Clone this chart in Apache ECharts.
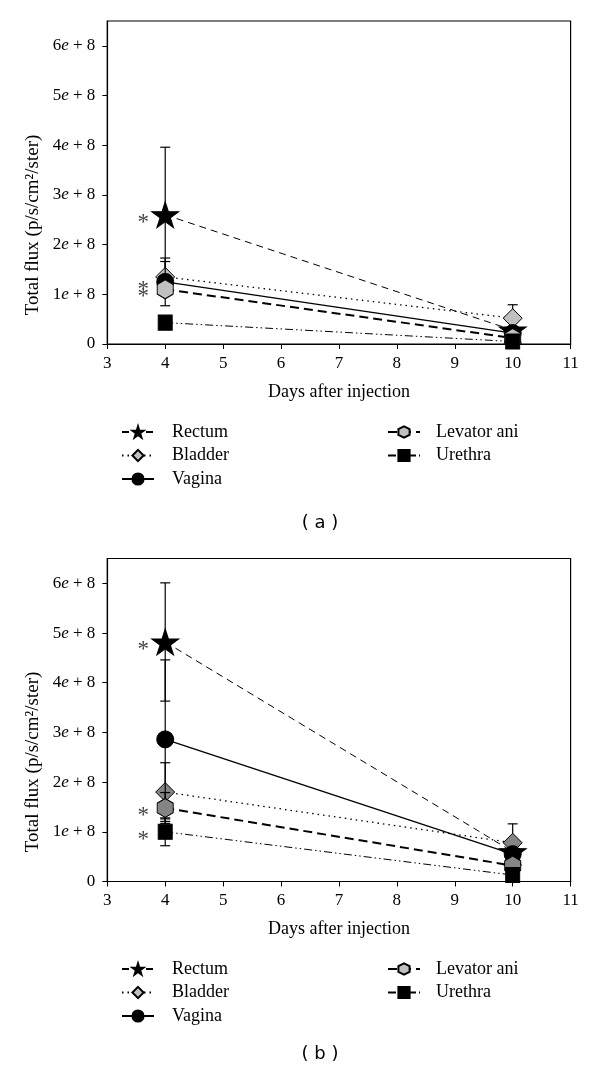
<!DOCTYPE html>
<html>
<head>
<meta charset="utf-8">
<script src="https://cdn.jsdelivr.net/npm/echarts@6/dist/echarts.min.js"></script>
<style>
html,body{margin:0;padding:0;background:#fff;}
#chart{width:600px;height:1075px;}
</style>
</head>
<body>
<div id="chart"></div>
<script>
// ---------- data ----------
const DAYS = [4, 10];
const X_TICKS = [3, 4, 5, 6, 7, 8, 9, 10, 11];
const Y_TICKS = [0, 1e8, 2e8, 3e8, 4e8, 5e8, 6e8];
const NAMES = ['Rectum', 'Bladder', 'Vagina', 'Levator ani', 'Urethra'];

// panel (a)
const A_RECTUM = [2.60e8, 0.28e8];
const A_RECTUM_ERR = [1.36e8, 0.05e8];
const A_BLADDER = [1.35e8, 0.52e8];
const A_BLADDER_ERR = [0.31e8, 0.27e8];
const A_VAGINA = [1.25e8, 0.22e8];
const A_VAGINA_ERR = [0.48e8, 0.05e8];
const A_LEVATOR = [1.10e8, 0.12e8];
const A_LEVATOR_ERR = [0.10e8, 0.04e8];
const A_URETHRA = [0.43e8, 0.05e8];
const A_URETHRA_ERR = [0.06e8, 0.02e8];
const A_STARRED = ['Rectum', 'Vagina', 'Levator ani'];

// panel (b)
const B_RECTUM = [4.82e8, 0.60e8];
const B_RECTUM_ERR = [1.19e8, 0.08e8];
const B_BLADDER = [1.80e8, 0.78e8];
const B_BLADDER_ERR = [0.59e8, 0.38e8];
const B_VAGINA = [2.86e8, 0.55e8];
const B_VAGINA_ERR = [1.60e8, 0.08e8];
const B_LEVATOR = [1.48e8, 0.32e8];
const B_LEVATOR_ERR = [0.31e8, 0.05e8];
const B_URETHRA = [1.00e8, 0.13e8];
const B_URETHRA_ERR = [0.28e8, 0.04e8];
const B_STARRED = ['Rectum', 'Levator ani', 'Urethra'];

// ---------- styles ----------
const SERIF = '"Liberation Serif", "DejaVu Serif", serif';
const STAR = 'path://M0,-1 L0.225,-0.309 L0.951,-0.309 L0.363,0.118 L0.588,0.809 L0,0.382 L-0.588,0.809 L-0.363,0.118 L-0.951,-0.309 L-0.225,-0.309 Z';
const HEX = 'path://M0,-1 L0.866,-0.5 L0.866,0.5 L0,1 L-0.866,0.5 L-0.866,-0.5 Z';

const STYLE = {
  'Rectum':      {symbol: STAR, size: [27, 26], line: {width: 1, type: [7, 5]}},
  'Bladder':     {symbol: 'diamond', size: [19, 19], line: {width: 1.3, type: [1.5, 4]}},
  'Vagina':      {symbol: 'circle', size: 17, line: {width: 1.4, type: 'solid'}},
  'Levator ani': {symbol: HEX, size: [16, 19], line: {width: 2, type: [9, 5]}},
  'Urethra':     {symbol: 'rect', size: [14, 15], line: {width: 1, type: [8, 3, 1.5, 3, 1.5, 3]}}
};
function fillFor(name, panel) {
  if (name === 'Bladder' || name === 'Levator ani') return panel === 0 ? '#c0c0c0' : '#858585';
  return '#000';
}

const PANELS = [
  {vals: [A_RECTUM, A_BLADDER, A_VAGINA, A_LEVATOR, A_URETHRA],
   errs: [A_RECTUM_ERR, A_BLADDER_ERR, A_VAGINA_ERR, A_LEVATOR_ERR, A_URETHRA_ERR],
   starred: A_STARRED},
  {vals: [B_RECTUM, B_BLADDER, B_VAGINA, B_LEVATOR, B_URETHRA],
   errs: [B_RECTUM_ERR, B_BLADDER_ERR, B_VAGINA_ERR, B_LEVATOR_ERR, B_URETHRA_ERR],
   starred: B_STARRED}
];

function renderErr(params, api) {
  const x = api.value(0), lo = api.value(1), hi = api.value(2);
  const t = api.coord([x, hi]), b = api.coord([x, lo]);
  const w = 5;
  const st = {stroke: '#000', lineWidth: 1.2};
  return {type: 'group', children: [
    {type: 'line', shape: {x1: t[0], y1: t[1], x2: b[0], y2: b[1]}, style: st},
    {type: 'line', shape: {x1: t[0] - w, y1: t[1], x2: t[0] + w, y2: t[1]}, style: st},
    {type: 'line', shape: {x1: b[0] - w, y1: b[1], x2: b[0] + w, y2: b[1]}, style: st}
  ]};
}

const series = [];
PANELS.forEach((p, pi) => {
  NAMES.forEach((name, si) => {
    const v = p.vals[si], e = p.errs[si], s = STYLE[name];
    series.push({
      type: 'custom', name: name + ' error', xAxisIndex: pi, yAxisIndex: pi,
      z: 2 + si * 2, renderItem: renderErr, silent: true,
      encode: {x: 0, y: [1, 2]},
      data: DAYS.map((d, i) => [d, Math.max(0, v[i] - e[i]), v[i] + e[i]])
    });
    series.push({
      type: 'line', name: name, xAxisIndex: pi, yAxisIndex: pi,
      z: 3 + si * 2, symbol: s.symbol, symbolSize: s.size, showAllSymbol: true,
      lineStyle: {color: '#000', width: s.line.width, type: s.line.type},
      itemStyle: {color: fillFor(name, pi), borderColor: '#000', borderWidth: 1},
      emphasis: {disabled: true}, animation: false,
      data: DAYS.map((d, i) => {
        const item = {value: [d, v[i]]};
        if (i === 0 && p.starred.indexOf(name) >= 0) {
          item.label = {show: true, formatter: '*', position: 'inside', offset: [-22, 8],
            color: '#444', fontSize: 23, fontFamily: SERIF};
        }
        return item;
      })
    });
  });
});

const GRID_TOPS = [21, 558.5];
function xAxis(i) {
  return {
    type: 'value', gridIndex: i, min: 3, max: 11, interval: 1,
    name: 'Days after injection', nameLocation: 'middle', nameGap: 39,
    nameTextStyle: {fontFamily: SERIF, fontSize: 18, color: '#000'},
    axisLine: {lineStyle: {color: '#000', width: 1.2}},
    axisTick: {inside: false, length: 5, lineStyle: {color: '#000'}, customValues: X_TICKS},
    axisLabel: {fontFamily: SERIF, fontSize: 17, color: '#000', margin: 11, customValues: X_TICKS},
    splitLine: {show: false}
  };
}
function yAxis(i) {
  return {
    type: 'value', gridIndex: i, min: 0, max: 6.5e8,
    axisLine: {show: true, lineStyle: {color: '#000', width: 1.2}},
    axisTick: {show: true, inside: false, length: 5, lineStyle: {color: '#000'}, customValues: Y_TICKS},
    axisLabel: {
      customValues: Y_TICKS, margin: 12, color: '#000',
      formatter: function (val) {
        if (val === 0) return '{n|0}';
        return '{n|' + Math.round(val / 1e8) + '}{e|e}{n| + 8}';
      },
      rich: {
        n: {fontFamily: SERIF, fontSize: 17, color: '#000'},
        e: {fontFamily: SERIF, fontSize: 17, fontStyle: 'italic', color: '#000'}
      }
    },
    splitLine: {show: false}
  };
}

const LEG_ROWS = [418, 955];
const legends = [];
LEG_ROWS.forEach(top => {
  const common = {
    orient: 'vertical', top: top, itemWidth: 32, itemHeight: 14, itemGap: 5.5,
    selectedMode: false,
    textStyle: {fontFamily: SERIF, fontSize: 18, color: '#000', lineHeight: 14, padding: [0, 0, 0, 13]}
  };
  legends.push(Object.assign({}, common, {left: 116, data: ['Rectum', 'Bladder', 'Vagina']}));
  legends.push(Object.assign({}, common, {left: 382, data: ['Levator ani', 'Urethra'],
    textStyle: Object.assign({}, common.textStyle, {padding: [0, 0, 0, 11]})}));
});

const option = {
  animation: false,
  backgroundColor: '#fff',
  grid: GRID_TOPS.map(t => ({left: 107.3, top: t, width: 463.3, height: 323,
    show: true, borderColor: '#000', borderWidth: 1.2, backgroundColor: 'transparent'})),
  xAxis: [xAxis(0), xAxis(1)],
  yAxis: [yAxis(0), yAxis(1)],
  legend: legends,
  graphic: [
    {type: 'text', x: 33, y: 225, rotation: Math.PI / 2, style: {text: 'Total flux (p/s/cm²/ster)',
      fontFamily: SERIF, fontSize: 19, fill: '#000', align: 'center', verticalAlign: 'middle'}},
    {type: 'text', x: 33, y: 762, rotation: Math.PI / 2, style: {text: 'Total flux (p/s/cm²/ster)',
      fontFamily: SERIF, fontSize: 19, fill: '#000', align: 'center', verticalAlign: 'middle'}},
    {type: 'text', x: 320, y: 523, style: {text: '( a )', fontFamily: '"DejaVu Sans", sans-serif',
      fontSize: 18, fill: '#000', align: 'center', verticalAlign: 'middle'}},
    {type: 'text', x: 320, y: 1054, style: {text: '( b )', fontFamily: '"DejaVu Sans", sans-serif',
      fontSize: 18, fill: '#000', align: 'center', verticalAlign: 'middle'}}
  ],
  series: series
};

const chart = echarts.init(document.getElementById('chart'), null, {renderer: 'canvas'});
chart.setOption(option);
</script>
</body>
</html>
